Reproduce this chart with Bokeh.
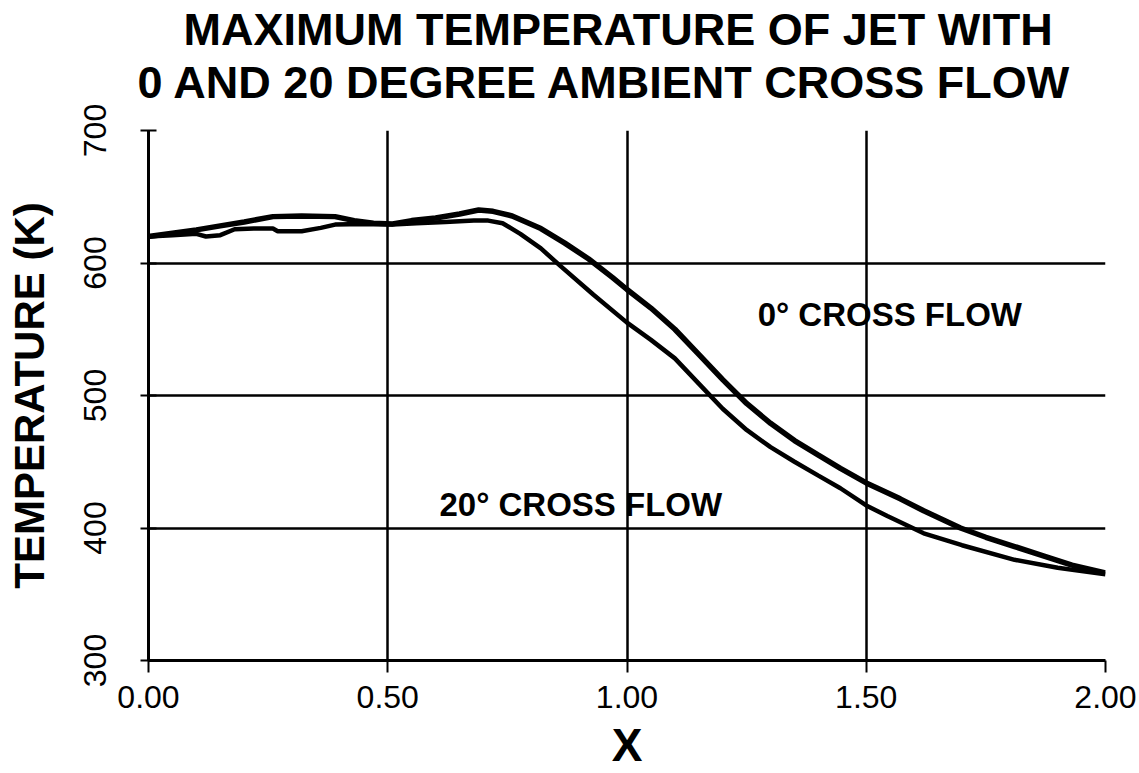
from bokeh.plotting import figure
from bokeh.models import Range1d, Label, FixedTicker, NumeralTickFormatter, Title
from bokeh.embed import file_html
from bokeh.resources import INLINE

# ---- data ----
title_line1 = "MAXIMUM TEMPERATURE OF JET WITH"
title_line2 = "0 AND 20 DEGREE  AMBIENT CROSS FLOW"
x_label = "X"
y_label = "TEMPERATURE (K)"
x_ticks = [0.0, 0.5, 1.0, 1.5, 2.0]
y_ticks = [300, 400, 500, 600, 700]

# 0 degree cross flow (upper curve in the decay region)
x_0deg = [0.00, 0.05, 0.10, 0.15, 0.20, 0.26, 0.32, 0.39, 0.43, 0.47, 0.51, 0.55,
          0.60, 0.65, 0.69, 0.72, 0.76, 0.82, 0.87, 0.92, 0.97, 1.00, 1.05, 1.10,
          1.15, 1.20, 1.25, 1.30, 1.35, 1.40, 1.446, 1.50, 1.571, 1.62, 1.697, 1.75,
          1.81, 1.87, 1.93, 2.00]
t_0deg = [620, 622.5, 625, 628, 631, 635, 635.5, 635, 632, 630, 629.5, 632,
          634, 637, 640, 639, 635.5, 626, 615, 603, 589, 580, 566, 550,
          531, 512, 494, 479, 466, 455, 445, 434, 422, 413, 400, 393,
          386, 379, 372, 366]

# 20 degree cross flow (lower curve in the decay region)
x_20deg = [0.00, 0.05, 0.10, 0.12, 0.15, 0.18, 0.22, 0.26, 0.27, 0.32, 0.36, 0.39,
           0.45, 0.51, 0.56, 0.62, 0.68, 0.71, 0.74, 0.777, 0.82, 0.86, 0.93, 1.00,
           1.05, 1.10, 1.15, 1.20, 1.25, 1.30, 1.35, 1.40, 1.446, 1.50, 1.544, 1.62,
           1.70, 1.81, 1.90, 2.00]
t_20deg = [620, 621, 622, 620, 621, 625.5, 626, 626, 624, 624, 626.5, 629,
           629.5, 629, 630, 631, 632, 632, 630, 622, 611, 598, 576, 555,
           542, 528, 509, 490, 474, 461, 450, 439.5, 430, 417, 409, 396,
           387, 376, 370, 365]

label_0deg = "0° CROSS FLOW"
label_20deg = "20° CROSS FLOW"

FONT = "Liberation Sans"

p = figure(width=1139, height=773, output_backend="svg", toolbar_location=None,
           x_range=Range1d(0, 2), y_range=Range1d(300, 700),
           min_border_left=148, min_border_right=34, min_border_top=130,
           min_border_bottom=113)
p.outline_line_color = None
p.background_fill_color = "white"
p.border_fill_color = "white"

# two-line title (inner line added first; later ones stack outward)
t2 = Title(text=title_line2, align="left", offset=-11, standoff=45,
           text_font=FONT, text_font_style="bold", text_font_size="45px",
           text_color="black")
t1 = Title(text=title_line1, align="left", offset=35, standoff=-44,
           text_font=FONT, text_font_style="bold", text_font_size="45px",
           text_color="black")
p.add_layout(t2, "above")
p.add_layout(t1, "above")

# grid
for g in (p.xgrid, p.ygrid):
    g.grid_line_color = "black"
    g.grid_line_width = 2.5
p.xgrid.ticker = FixedTicker(ticks=x_ticks)
p.ygrid.ticker = FixedTicker(ticks=y_ticks)

# axes
p.xaxis.ticker = FixedTicker(ticks=x_ticks)
p.yaxis.ticker = FixedTicker(ticks=y_ticks)
p.xaxis.formatter = NumeralTickFormatter(format="0.00")
p.yaxis.formatter = NumeralTickFormatter(format="0")
for ax in (p.xaxis[0], p.yaxis[0]):
    ax.axis_line_color = "black"
    ax.axis_line_width = 3
    ax.major_tick_line_color = "black"
    ax.major_tick_line_width = 2
    ax.minor_tick_line_color = None
    ax.major_label_text_font = FONT
    ax.major_label_text_font_size = "32px"
    ax.major_label_text_color = "black"
    ax.axis_label_text_font = FONT
    ax.axis_label_text_font_style = "bold"
    ax.axis_label_text_color = "black"

p.xaxis.major_tick_in = 0
p.xaxis.major_tick_out = 12
p.xaxis.major_label_standoff = 13
p.xaxis.axis_label = x_label
p.xaxis.axis_label_text_font_size = "46px"
p.xaxis.axis_label_standoff = 8

p.yaxis.major_tick_in = 8
p.yaxis.major_tick_out = 8
p.yaxis.major_label_orientation = "parallel"
p.yaxis.major_label_standoff = 35
p.yaxis.axis_label = y_label
p.yaxis.axis_label_text_font_size = "42px"
p.yaxis.axis_label_standoff = 28

# curves
p.line(x_20deg, t_20deg, line_color="black", line_width=4.5)
p.line(x_0deg, t_0deg, line_color="black", line_width=5.5)

# curve labels
p.add_layout(Label(x=1.273, y=561, text=label_0deg, text_font=FONT,
                   text_font_style="bold", text_font_size="33px",
                   text_color="black", text_baseline="alphabetic"))
p.add_layout(Label(x=0.608, y=418, text=label_20deg, text_font=FONT,
                   text_font_style="bold", text_font_size="33px",
                   text_color="black", text_baseline="alphabetic"))

open("out.html", "w").write(file_html(p, INLINE))
